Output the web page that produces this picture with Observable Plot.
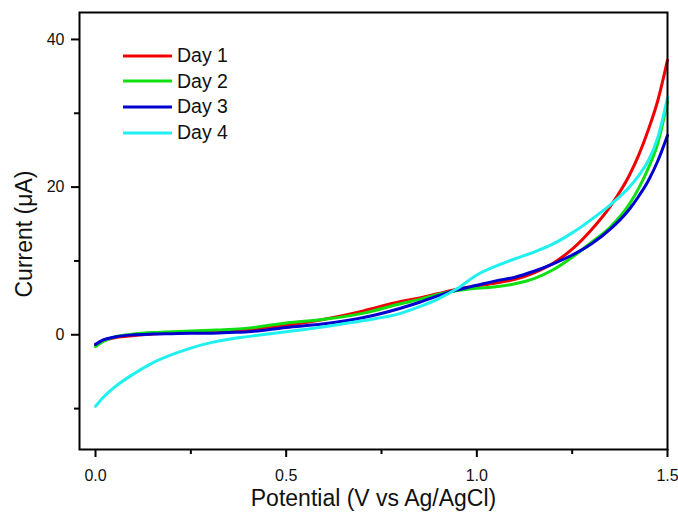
<!DOCTYPE html>
<html>
<head>
<meta charset="utf-8">
<script src="https://cdn.jsdelivr.net/npm/d3@7"></script>
<script src="https://cdn.jsdelivr.net/npm/@observablehq/plot@0.6"></script>
<style>
  html, body { margin: 0; padding: 0; background: #ffffff; }
  #chart { position: relative; width: 678px; height: 516px; font-family: "Liberation Sans", Arial, sans-serif; }
  #legend { position: absolute; left: 123px; top: 43px; }
  .item { display: flex; align-items: center; height: 25.6px; }
  .item span { font-size: 19.5px; color: #111; margin-left: 5px; line-height: 1; }
</style>
</head>
<body>
<div id="chart"></div>
<script>
// ---- data ----
const potential = [0, 0.02, 0.05, 0.1, 0.15, 0.2, 0.25, 0.3, 0.35, 0.4, 0.5, 0.6, 0.7, 0.8, 0.85, 0.9, 0.95, 1.0, 1.05, 1.1, 1.15, 1.2, 1.25, 1.3, 1.35, 1.4, 1.425, 1.45, 1.475, 1.5];
const day1 = [-1.4, -0.8, -0.4, -0.1, 0.1, 0.3, 0.4, 0.5, 0.6, 0.7, 1.3, 2.1, 3.2, 4.5, 5.0, 5.6, 6.2, 6.6, 7.0, 7.5, 8.4, 9.7, 11.6, 14.2, 17.4, 21.6, 24.4, 27.8, 31.8, 37.2];
const day2 = [-1.6, -0.9, -0.3, 0.1, 0.3, 0.4, 0.5, 0.6, 0.7, 0.9, 1.6, 2.1, 2.9, 4.2, 4.8, 5.5, 6.0, 6.3, 6.5, 6.9, 7.6, 8.8, 10.5, 12.5, 14.6, 17.7, 19.9, 22.6, 26.0, 31.6];
const day3 = [-1.3, -0.7, -0.3, 0.0, 0.1, 0.15, 0.2, 0.2, 0.3, 0.4, 1.0, 1.5, 2.3, 3.6, 4.4, 5.3, 6.1, 6.7, 7.3, 7.8, 8.6, 9.6, 10.8, 12.3, 14.3, 17.0, 18.8, 20.9, 23.6, 27.0];
const day4 = [-9.7, -8.5, -7.1, -5.3, -3.8, -2.7, -1.8, -1.1, -0.6, -0.25, 0.4, 1.1, 1.9, 2.9, 3.8, 4.9, 6.3, 8.1, 9.3, 10.3, 11.2, 12.3, 13.8, 15.6, 17.6, 20.0, 21.6, 23.6, 26.8, 32.1];
const seriesNames = ["Day 1", "Day 2", "Day 3", "Day 4"];
const seriesColors = ["#f00000", "#10e010", "#0000d0", "#20f0f0"];
const xTicksMajor = [0, 0.5, 1.0, 1.5];
const xTicksMinor = [0.25, 0.75, 1.25];
const yTicksMajor = [0, 20, 40];
const yTicksMinor = [-10, 10, 30];
const xTitle = "Potential (V vs Ag/AgCl)";
const yTitle = "Current (μA)";

const seriesValues = [day1, day2, day3, day4];
const rows = seriesValues.flatMap((vals, i) =>
  vals.map((v, j) => ({V: potential[j], I: v, series: seriesNames[i]})));

const font = "'Liberation Sans', Arial, sans-serif";
const plot = Plot.plot({
  width: 678,
  height: 516,
  marginLeft: 79,
  marginRight: 11,
  marginTop: 12,
  marginBottom: 67,
  style: {background: "#ffffff", color: "#111", fontFamily: font, overflow: "visible"},
  x: {domain: [-0.042, 1.5]},
  y: {domain: [-15.54, 43.65]},
  color: {domain: seriesNames, range: seriesColors},
  marks: [
    Plot.line(rows, {x: "V", y: "I", z: "series", stroke: "series", strokeWidth: 3, curve: "monotone-x"}),
    Plot.frame({stroke: "#000", strokeWidth: 2}),
    Plot.axisX(xTicksMajor, {tickSize: 8, tickPadding: 12, tickFormat: d3.format(".1f"), fontSize: 16, label: null, strokeWidth: 2, stroke: "#000"}),
    Plot.axisX(xTicksMinor, {tickSize: 5, tickFormat: () => "", label: null, strokeWidth: 2, stroke: "#000"}),
    Plot.axisY(yTicksMajor, {tickSize: 8, tickPadding: 7, tickFormat: d3.format("d"), fontSize: 16, label: null, strokeWidth: 2, stroke: "#000"}),
    Plot.axisY(yTicksMinor, {tickSize: 5, tickFormat: () => "", label: null, strokeWidth: 2, stroke: "#000"}),
    Plot.text([xTitle], {frameAnchor: "bottom", text: d => d, dy: 49, lineAnchor: "middle", textAnchor: "middle", fontSize: 23, fill: "#111"}),
    Plot.text([yTitle], {frameAnchor: "left", text: d => d, rotate: -90, dx: -55, dy: 3, lineAnchor: "middle", textAnchor: "middle", fontSize: 23, fill: "#111"})
  ]
});

const chart = document.getElementById("chart");
chart.appendChild(plot);

const legend = d3.select(chart).append("div").attr("id", "legend");
seriesNames.forEach((name, i) => {
  const item = legend.append("div").attr("class", "item");
  const sw = item.append("svg").attr("width", 49).attr("height", 6);
  sw.append("line").attr("x1", 0).attr("x2", 49).attr("y1", 3).attr("y2", 3)
    .attr("stroke", seriesColors[i]).attr("stroke-width", 3);
  item.append("span").text(name);
});
</script>
</body>
</html>
